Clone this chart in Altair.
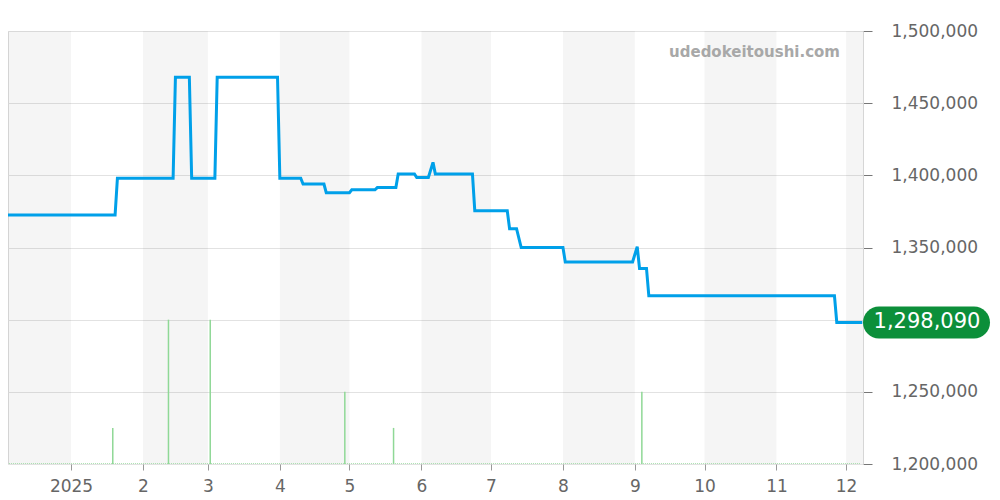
import altair as alt
import pandas as pd

# ---- data ----
price_dates = [
    "2024-12-01", "2025-01-20", "2025-01-21", "2025-02-14", "2025-02-15",
    "2025-02-21", "2025-02-22", "2025-03-04", "2025-03-05", "2025-03-31",
    "2025-04-01", "2025-04-10", "2025-04-11", "2025-04-20", "2025-04-21",
    "2025-05-01", "2025-05-02", "2025-05-12", "2025-05-13", "2025-05-21",
    "2025-05-22", "2025-05-29", "2025-05-30", "2025-06-04", "2025-06-06",
    "2025-06-07", "2025-06-23", "2025-06-24", "2025-07-08", "2025-07-09",
    "2025-07-12", "2025-07-14", "2025-08-01", "2025-08-02", "2025-08-31",
    "2025-09-02", "2025-09-03", "2025-09-06", "2025-09-07", "2025-11-26",
    "2025-11-27", "2025-12-08",
]
price_values = [
    1372500, 1372500, 1398000, 1398000, 1468000,
    1468000, 1398000, 1398000, 1468000, 1468000,
    1398000, 1398000, 1394000, 1394000, 1388000,
    1388000, 1390000, 1390000, 1391500, 1391500,
    1401000, 1401000, 1398500, 1398500, 1409000,
    1401000, 1401000, 1375500, 1375500, 1363000,
    1363000, 1350000, 1350000, 1340000, 1340000,
    1350500, 1335500, 1335500, 1316500, 1316500,
    1298090, 1298090,
]

volume_dates = ["2025-01-19", "2025-02-12", "2025-03-02", "2025-04-29", "2025-05-20", "2025-09-04"]
volume_values = [1, 4, 4, 2, 1, 2]

band_starts = ["2024-12-01", "2025-02-01", "2025-04-01", "2025-06-01", "2025-08-01", "2025-10-01", "2025-12-01"]
band_ends = ["2025-01-01", "2025-03-01", "2025-05-01", "2025-07-01", "2025-09-01", "2025-11-01", "2025-12-31"]

tick_months = ["2025-01-01", "2025-02-01", "2025-03-01", "2025-04-01", "2025-05-01", "2025-06-01",
               "2025-07-01", "2025-08-01", "2025-09-01", "2025-10-01", "2025-11-01", "2025-12-01"]
y_ticks = [1200000, 1250000, 1300000, 1350000, 1400000, 1450000, 1500000]

last_price = 1298090
watermark = "udedokeitoushi.com"

price_df = pd.DataFrame({"date": price_dates, "price": price_values})
vol_df = pd.DataFrame({"date": volume_dates, "vol": volume_values})
band_df = pd.DataFrame({"start": band_starts, "end": band_ends})
one_df = pd.DataFrame({"price": [last_price], "label": [f"{last_price:,}"], "wm": [watermark]})

x_domain = [
    alt.DateTime(year=2024, month=12, date=4, hours=20, minutes=24, utc=True),
    alt.DateTime(year=2025, month=12, date=8, hours=7, minutes=12, utc=True),
]
x_scale = alt.Scale(type="utc", domain=x_domain)
y_scale = alt.Scale(domain=[1200000, 1500000], nice=False, zero=False)
v_scale = alt.Scale(domain=[0, 12], nice=False)

tick_vals = [alt.DateTime(year=int(s[:4]), month=int(s[5:7]), date=1, utc=True) for s in tick_months]

x_axis = alt.Axis(
    values=tick_vals, domain=False, grid=False, tickColor="#999999", tickSize=6,
    labelPadding=8, labelColor="#666666", labelFontSize=17, title=None,
    labelExpr="utcmonth(datum.value) == 0 ? utcFormat(datum.value, '%Y') : '' + (utcmonth(datum.value) + 1)",
)
# the 1,300,000 label sits under the last-price badge in the reference
y_axis = alt.Axis(
    orient="right", values=y_ticks, grid=True, gridColor="#e2e2e2",
    domainColor="#d6d6d6", tickColor="#777777", tickSize=9, labelPadding=19,
    labelColor="#666666", labelFontSize=17, title=None,
    labelExpr=f"abs(datum.value - {last_price}) < 10000 ? '' : format(datum.value, ',')",
)

bands = alt.Chart(band_df).mark_rect(color="#000000", opacity=0.04, clip=True).encode(
    x=alt.X("start:T", scale=x_scale, axis=x_axis),
    x2="end:T",
    y=alt.Y(datum=1500000, type="quantitative", scale=y_scale, axis=y_axis),
    y2=alt.Y2(datum=1200000),
)

baseline = alt.Chart(one_df).mark_rule(color="#8fd896", strokeDash=[1, 1], strokeWidth=1.5, clip=True).encode(
    x=alt.X(datum=alt.DateTime(year=2024, month=12, date=1, utc=True), type="temporal", scale=x_scale),
    x2=alt.X2(datum=alt.DateTime(year=2025, month=12, date=7, utc=True)),
    y=alt.Y(datum=0, type="quantitative", scale=v_scale, axis=None),
)

vol = alt.Chart(vol_df).mark_rule(color="#8fd896", strokeWidth=1.5, clip=True).encode(
    x=alt.X("date:T", scale=x_scale),
    y=alt.Y("vol:Q", scale=v_scale, axis=None),
    y2=alt.Y2(datum=0),
)

line = alt.Chart(price_df).mark_line(color="#00a0e9", strokeWidth=3, clip=True).encode(
    x=alt.X("date:T", scale=x_scale),
    y=alt.Y("price:Q", scale=y_scale, axis=None),
)

badge = alt.Chart(one_df).mark_rect(
    color="#0c8f3a", cornerRadius=16, yOffset=-16, y2Offset=16
).encode(
    x=alt.value(855), x2=alt.value(982),
    y=alt.Y("price:Q", scale=y_scale, axis=None),
    y2="price:Q",
)

badge_text = alt.Chart(one_df).mark_text(
    color="white", fontSize=21, align="center", baseline="middle"
).encode(
    x=alt.value(919),
    y=alt.Y("price:Q", scale=y_scale, axis=None),
    text="label:N",
)

wm = alt.Chart(one_df).mark_text(
    color="#a8a8a8", fontSize=15, fontWeight="bold", align="right", baseline="middle"
).encode(
    x=alt.value(832), y=alt.value(21), text="wm:N",
)

chart = alt.layer(bands, baseline, vol, line, badge, badge_text, wm).resolve_scale(
    y="independent"
).properties(
    width=855, height=433,
    autosize=alt.AutoSizeParams(type="none"),
    padding={"left": 0, "top": 23, "right": 128, "bottom": 30},
).configure_view(stroke=None).configure(font="DejaVu Sans")

chart.save("out.html", embed_options={"renderer": "svg", "actions": False})
